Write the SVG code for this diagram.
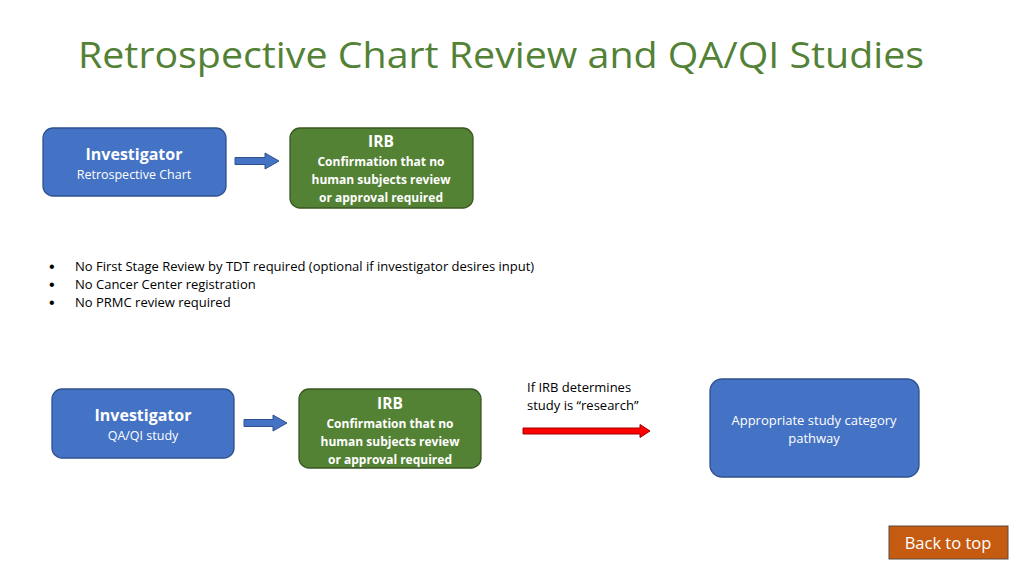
<svg xmlns="http://www.w3.org/2000/svg" width="1024" height="576" viewBox="0 0 1024 576">
<style>
text{font-family:"Open Sans","Liberation Sans",sans-serif}
.blue{fill:#4472C4;stroke:#2F528F;stroke-width:1.3}
.green{fill:#548235;stroke:#385723;stroke-width:1.3}
.w{fill:#fff;text-anchor:middle}
.b{font-weight:bold}
.t{fill:#000;font-size:13px}
.dot{fill:#000;font-size:16px;font-family:"Liberation Sans",sans-serif}
</style>
<rect width="1024" height="576" fill="#fff"/>
<text x="78" y="68" font-size="37" fill="#538135" textLength="846" lengthAdjust="spacingAndGlyphs">Retrospective Chart Review and QA/QI Studies</text>
<g id="investigator1">
<rect class="blue" x="43" y="128" width="183" height="68" rx="10"/>
<text class="w b" x="134" y="160" font-size="16">Investigator</text>
<text class="w" x="134" y="179" font-size="12.5">Retrospective Chart</text>
</g>
<g id="irb1">
<rect class="green" x="290" y="128" width="183" height="80" rx="10"/>
<text class="w b" x="381" y="147" font-size="15.5">IRB</text>
<text class="w b" x="381" y="166" font-size="12">Confirmation that no</text>
<text class="w b" x="381" y="184" font-size="12">human subjects review</text>
<text class="w b" x="381" y="202" font-size="12">or approval required</text>
</g>
<g id="bullets">
<text class="dot" x="49" y="272">•</text><text class="t" x="75" y="271">No First Stage Review by TDT required (optional if investigator desires input)</text>
<text class="dot" x="49" y="290">•</text><text class="t" x="75" y="289">No Cancer Center registration</text>
<text class="dot" x="49" y="308">•</text><text class="t" x="75" y="307">No PRMC review required</text>
</g>
<g id="investigator2">
<rect class="blue" x="52" y="389" width="182" height="69" rx="10"/>
<text class="w b" x="143" y="421" font-size="16">Investigator</text>
<text class="w" x="143" y="440" font-size="12.5">QA/QI study</text>
</g>
<g id="irb2">
<rect class="green" x="299" y="389" width="182" height="79" rx="10"/>
<text class="w b" x="390" y="409" font-size="15.5">IRB</text>
<text class="w b" x="390" y="428" font-size="12">Confirmation that no</text>
<text class="w b" x="390" y="446" font-size="12">human subjects review</text>
<text class="w b" x="390" y="464" font-size="12">or approval required</text>
</g>
<g id="pathway">
<rect class="blue" x="710" y="379" width="209" height="98" rx="12"/>
<text class="w" x="814" y="425" font-size="13">Appropriate study category</text>
<text class="w" x="814" y="443" font-size="13">pathway</text>
</g>
<g id="backtotop">
<rect x="889" y="526" width="119" height="33" fill="#C55A11" stroke="#5a4a40" stroke-width="1"/>
<text class="w" x="948" y="549" font-size="16.5">Back to top</text>
</g>
<g id="connectors">
<path d="M235,157.5 H265 V153 L279,161 L265,169 V164.5 H235 Z" fill="#4472C4" stroke="#2F528F" stroke-width="1"/>
<path d="M244,419.5 H273 V415 L287,423 L273,431 V426.5 H244 Z" fill="#4472C4" stroke="#2F528F" stroke-width="1"/>
<path d="M523,428 H640 V424.5 L650,431 L640,437.5 V434 H523 Z" fill="#FF0000" stroke="#A00000" stroke-width="1"/>
<text class="t" x="527" y="392">If IRB determines</text>
<text class="t" x="527" y="410">study is “research”</text>
</g>
</svg>
